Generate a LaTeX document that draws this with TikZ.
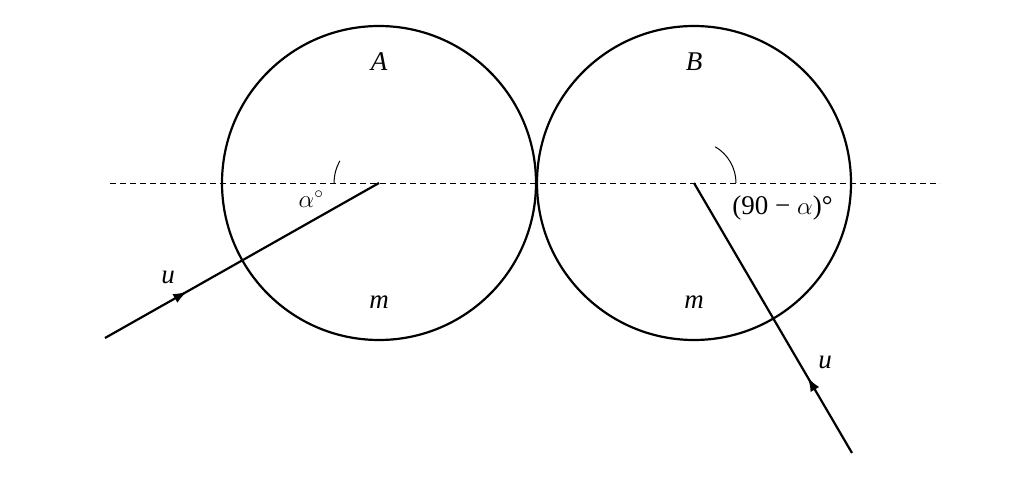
\documentclass[tikz,border=0pt]{standalone}
\usepackage{fontspec}
\setmainfont{Liberation Serif}
\usetikzlibrary{decorations.markings,arrows.meta}
\begin{document}
\begin{tikzpicture}[x=1pt,y=-1pt,line width=2.2pt,
  ball/.style={circle,draw,minimum size=314pt,inner sep=0pt},
  lbl/.style={font=\fontsize{27}{30}\selectfont\itshape},
  flow/.style={postaction={decorate},decoration={markings,mark=at position #1 with {\arrow{Latex[length=14pt,width=10pt]}}}}]
\useasboundingbox (0,0) rectangle (1036,479);
\node[ball] (A) at (379,183) {};
\node[ball] (B) at (694,183) {};
\coordinate (L) at (110,183);
\coordinate (R) at (940,183);
\draw[dashed,line width=1pt,dash pattern=on 6pt off 4pt] (L) -- (R);
\coordinate (ua) at (105,338);
\coordinate (ub) at (852,453);
\draw[flow=0.3] (ua) -- (A.center);
\draw[flow=0.28] (ub) -- (B.center);
\draw[line width=1pt] ([shift={(180:45)}]A.center) arc[start angle=180,end angle=209.5,radius=45];
\draw[line width=1pt] ([shift={(-59.7:42)}]B.center) arc[start angle=-59.7,end angle=0,radius=42];
\node[lbl] (tA) at (379,62) {A};
\node[lbl] (tB) at (694,62) {B};
\node[lbl] (mA) at (379,302) {m};
\node[lbl] (mB) at (694,302) {m};
\node[lbl] (u1) at (168,277) {u};
\node[lbl] (u2) at (825,362) {u};
\node[font=\fontsize{27}{30}\selectfont] (al) at (311,199) {$\alpha^\circ$};
\node[font=\fontsize{27}{30}\selectfont,anchor=west] (al2) at (728,208) {(90 − $\alpha$)°};
\end{tikzpicture}
\end{document}
